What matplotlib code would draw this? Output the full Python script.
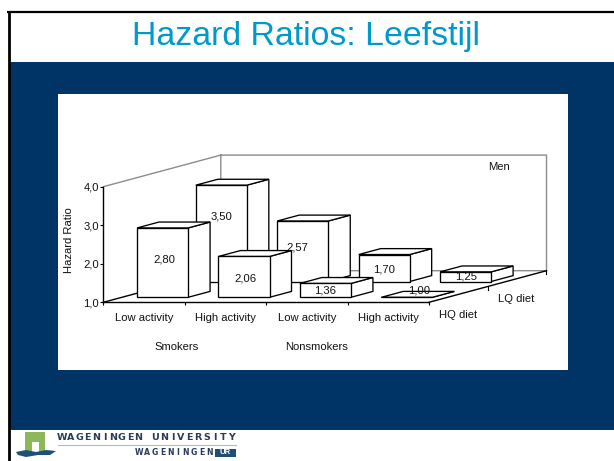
import matplotlib
matplotlib.use('Agg')
import matplotlib.pyplot as plt
from matplotlib.patches import Polygon, Rectangle

plt.rcParams['font.family'] = ['Liberation Sans', 'DejaVu Sans']

# Data
activity = ['Low activity', 'High activity', 'Low activity', 'High activity']
groups = ['Smokers', 'Nonsmokers']
hq_diet = [2.80, 2.06, 1.36, 1.00]
lq_diet = [3.50, 2.57, 1.70, 1.25]
y_ticks = [1, 2, 3, 4]

# label nudges in pixels, the 3D chart does not centre them on the bars
hq_nudge = [(2, 3), (1, -2), (0, 0), (12, 7)]
lq_nudge = [(0, 17), (-5, 4), (0, -1), (0, 0)]

NAVY = '#003366'
TITLE_BLUE = '#0099CC'
TXT = '#111111'
W, H = 614, 461
fs = 8.1

fig = plt.figure(figsize=(W / 100, H / 100), dpi=100, facecolor='white')

# slide background, in pixel coordinates
bg = fig.add_axes([0, 0, 1, 1])
bg.set_xlim(0, W)
bg.set_ylim(H, 0)
bg.axis('off')
bg.add_patch(Rectangle((9, 62), W - 9, 368, fc=NAVY, ec='none'))
bg.add_patch(Rectangle((58, 94), 510, 276, fc='white', ec='none'))
bg.plot([8.5, 8.5], [H, 12], color='black', lw=2, solid_capstyle='butt')
bg.plot([7, W], [12.5, 12.5], color='black', lw=1.6, solid_capstyle='butt')
bg.text(305.5, 37, 'Hazard Ratios: Leefstijl', color=TITLE_BLUE, fontsize=24.4,
        ha='center', va='center')

# logo
bg.add_patch(Polygon([(25, 432), (45, 432), (45, 452), (39, 452), (39, 442),
                      (32, 442), (32, 452), (25, 452)], fc='#8DB85A', ec='none'))
bg.add_patch(Polygon([(16, 452), (26, 450), (36, 452), (46, 450), (56, 451),
                      (50, 455), (38, 455), (26, 457), (18, 455)], fc='#1F4E79', ec='none'))
for i, ch in enumerate('WAGENINGEN UNIVERSITY'):
    bg.text(62 + i * 8.5, 437.5, ch, fontsize=6.8, color='#2A3A5A', weight='bold',
            family='DejaVu Sans', ha='center', va='center')
bg.plot([58, 236], [444.5, 444.5], color='#B0B8C0', lw=0.8)
for i, ch in enumerate('WAGENINGEN'):
    bg.text(139 + i * 7.8, 452.5, ch, fontsize=5.6, color='#2A3A5A', weight='bold',
            family='DejaVu Sans', ha='center', va='center')
bg.add_patch(Rectangle((215, 448.5), 21, 8, fc='#1F4E79', ec='none'))
bg.text(225.5, 452.5, 'UR', fontsize=5.6, color='white', weight='bold', ha='center', va='center')

# chart axes, this is the front plane of the 3D box
x0, y0, ax_w, ax_h = 103.3, 302.3, 325.7, 115.6
ax = fig.add_axes([x0 / W, 1 - y0 / H, ax_w / W, ax_h / H])
ax.patch.set_alpha(0)
ax.set_xlim(0, 4)
ax.set_ylim(1, 4)

# depth axis runs up and to the right
DX = 1.443
DY = 0.82
BAR_W = 0.627
BAR_D = 0.187


def proj(x, v, d):
    return (x + d * DX, v + d * DY)


GREY = '#8C8C8C'
wall = [(0, 4, 0), (0, 4, 1), (4, 4, 1), (4, 1, 1), (0, 1, 1), (0, 4, 1)]
pts = [proj(*p) for p in wall]
ax.plot(*zip(*pts), color=GREY, lw=1, clip_on=False, zorder=1)
for a, b in [((0, 1, 0), (0, 1, 1)), ((4, 1, 0), (4, 1, 1))]:
    p, q = proj(*a), proj(*b)
    ax.plot([p[0], q[0]], [p[1], q[1]], color='black', lw=1, clip_on=False, zorder=1.5)

# ticks along the depth edge
for d in [0.5, 1.0]:
    p = proj(4, 1, d)
    ax.plot([p[0], p[0]], [p[1], p[1] - 0.08], color='black', lw=0.8, clip_on=False, zorder=1.5)


def draw_bar(i, value, depth, zorder):
    left = i + 0.5 - BAR_W / 2
    right = left + BAR_W
    front = [proj(left, 1, depth), proj(right, 1, depth),
             proj(right, value, depth), proj(left, value, depth)]
    top = [proj(left, value, depth), proj(right, value, depth),
           proj(right, value, depth + BAR_D), proj(left, value, depth + BAR_D)]
    side = [proj(right, 1, depth), proj(right, 1, depth + BAR_D),
            proj(right, value, depth + BAR_D), proj(right, value, depth)]
    for face in (side, top, front):
        ax.add_patch(Polygon(face, closed=True, fc='white', ec='black', lw=0.95,
                             joinstyle='miter', clip_on=False, zorder=zorder))


def draw_label(i, value, depth, nudge):
    xy = proj(i + 0.5, (1 + value) / 2, depth)
    ax.annotate(f'{value:.2f}'.replace('.', ','), xy, xytext=nudge, textcoords='offset pixels',
                ha='center', va='center', fontsize=fs, color=TXT, annotation_clip=False, zorder=10)


# back row first, front row over it
for i, v in enumerate(lq_diet):
    draw_bar(i, v, 0.658, 3 + i * 0.1)
for i, v in enumerate(hq_diet):
    draw_bar(i, v, 0.158, 4 + i * 0.1)
for i, v in enumerate(lq_diet):
    draw_label(i, v, 0.658, lq_nudge[i])
for i, v in enumerate(hq_diet):
    draw_label(i, v, 0.158, hq_nudge[i])

# axes
for s in ['top', 'right']:
    ax.spines[s].set_visible(False)
for s in ['left', 'bottom']:
    ax.spines[s].set_linewidth(1)
ax.set_yticks(y_ticks)
ax.set_yticklabels([f'{t:.1f}'.replace('.', ',') for t in y_ticks], fontsize=fs, color=TXT)
ax.set_xticks([0, 1, 2, 3, 4])
ax.set_xticklabels([])
ax.tick_params(axis='both', length=2.2, width=0.8, pad=1)
ax.set_xticks([0.5, 1.5, 2.5, 3.5], minor=True)
ax.set_xticklabels(activity, minor=True, fontsize=fs, color=TXT)
ax.tick_params(axis='x', which='minor', length=0, pad=7.5)

# remaining text sits outside the box
bg.text(69, 240, 'Hazard Ratio', rotation=90, fontsize=fs, color=TXT, ha='center', va='center')
bg.text(177, 347, groups[0], fontsize=fs, color=TXT, ha='center', va='center')
bg.text(317, 347, groups[1], fontsize=fs, color=TXT, ha='center', va='center')
bg.text(458, 315, 'HQ diet', fontsize=fs, color=TXT, ha='center', va='center')
bg.text(516.5, 299, 'LQ diet', fontsize=fs, color=TXT, ha='center', va='center')
bg.text(499, 167, 'Men', fontsize=fs, color=TXT, ha='center', va='center')

fig.savefig('out.png', dpi=100, facecolor='white')
